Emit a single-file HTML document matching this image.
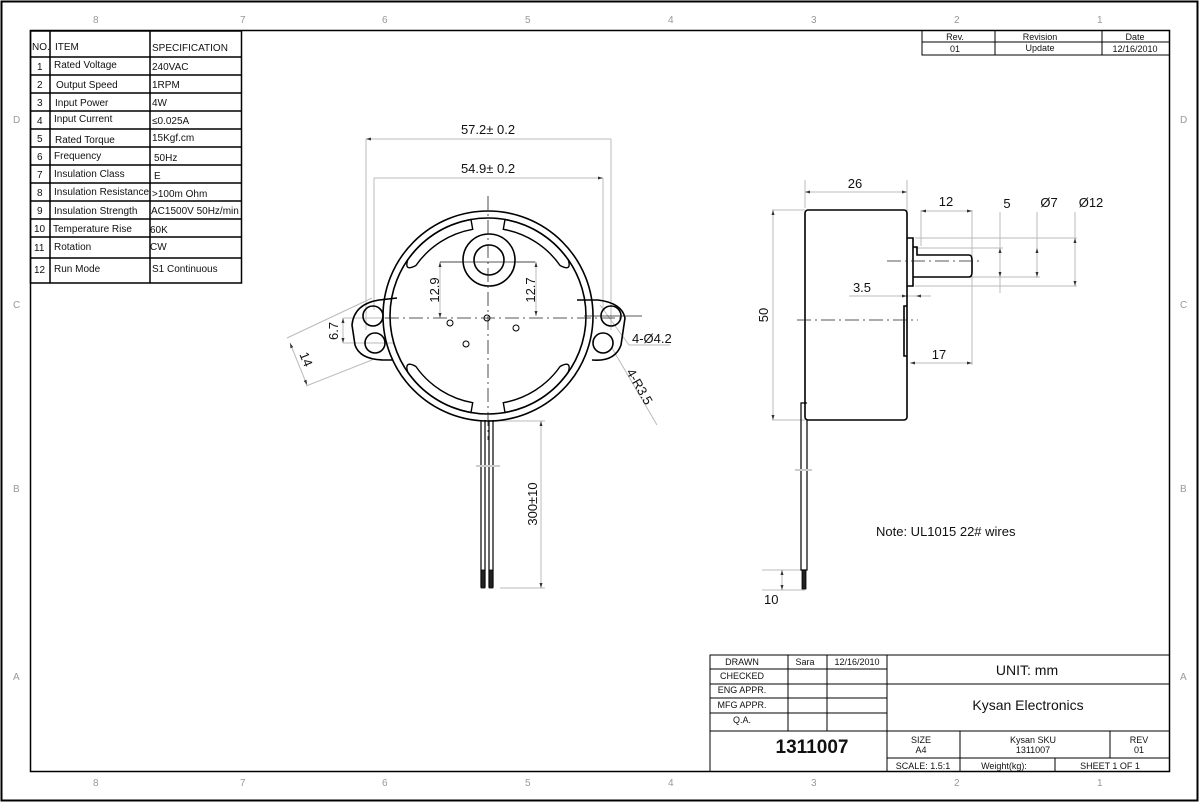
<!DOCTYPE html>
<html><head><meta charset="utf-8"><style>
html,body{margin:0;padding:0;background:#fff}
svg{display:block}
text{font-family:"Liberation Sans",Arial,sans-serif;fill:#111}
.d{stroke:#bbb;stroke-width:1;fill:none}
.k{stroke:#000;stroke-width:1.6;fill:none}
.t{stroke:#000;stroke-width:1;fill:none}
.c{stroke:#222;stroke-width:0.8;fill:none;stroke-dasharray:14 4 2 4}
</style></head><body>
<svg width="1200" height="803" viewBox="0 0 1200 803" xmlns="http://www.w3.org/2000/svg">
<defs><marker id="a" viewBox="0 0 10 10" refX="10" refY="5" markerWidth="7" markerHeight="5" orient="auto-start-reverse"><path d="M0,2 L10,5 L0,8z" fill="#333"/></marker></defs>
<rect x="1.5" y="1.5" width="1196" height="799" fill="none" stroke="#000" stroke-width="2"/>
<rect x="30.5" y="30.5" width="1139" height="741" fill="none" stroke="#000" stroke-width="1.5"/>
<g font-size="10">
<text x="93" y="23" style="fill:#999">8</text><text x="240" y="23" style="fill:#999">7</text><text x="382" y="23" style="fill:#999">6</text><text x="525" y="23" style="fill:#999">5</text><text x="668" y="23" style="fill:#999">4</text><text x="811" y="23" style="fill:#999">3</text><text x="954" y="23" style="fill:#999">2</text><text x="1097" y="23" style="fill:#999">1</text>
<text x="93" y="786" style="fill:#999">8</text><text x="240" y="786" style="fill:#999">7</text><text x="382" y="786" style="fill:#999">6</text><text x="525" y="786" style="fill:#999">5</text><text x="668" y="786" style="fill:#999">4</text><text x="811" y="786" style="fill:#999">3</text><text x="954" y="786" style="fill:#999">2</text><text x="1097" y="786" style="fill:#999">1</text>
<text x="13" y="123" style="fill:#999">D</text><text x="13" y="308" style="fill:#999">C</text><text x="13" y="492" style="fill:#999">B</text><text x="13" y="680" style="fill:#999">A</text>
<text x="1180" y="123" style="fill:#999">D</text><text x="1180" y="308" style="fill:#999">C</text><text x="1180" y="492" style="fill:#999">B</text><text x="1180" y="680" style="fill:#999">A</text>
</g>
<!-- spec table -->
<rect x="30.5" y="31" width="211" height="252" stroke="#000" stroke-width="1.5" fill="none"/>
<path d="M50,31V283M150,31V283M30,57H242M30,75H242M30,93H242M30,111H242M30,129H242M30,147H242M30,165H242M30,183H242M30,201H242M30,219H242M30,237H242M30,258H242" stroke="#000" stroke-width="1.5" fill="none"/>
<g font-size="10">
<text x="32" y="50">NO.</text><text x="55" y="50">ITEM</text><text x="152" y="51">SPECIFICATION</text>
<text x="37" y="70">1</text><text x="54" y="68">Rated Voltage</text><text x="152" y="70">240VAC</text>
<text x="37" y="88">2</text><text x="56" y="88">Output Speed</text><text x="152" y="88">1RPM</text>
<text x="37" y="106">3</text><text x="55" y="106">Input Power</text><text x="152" y="106">4W</text>
<text x="37" y="124">4</text><text x="54" y="122">Input Current</text><text x="152" y="124">≤0.025A</text>
<text x="37" y="142">5</text><text x="55" y="143">Rated Torque</text><text x="152" y="141">15Kgf.cm</text>
<text x="37" y="160">6</text><text x="54" y="159">Frequency</text><text x="154" y="161">50Hz</text>
<text x="37" y="178">7</text><text x="54" y="177">Insulation Class</text><text x="154" y="179">E</text>
<text x="37" y="196">8</text><text x="54" y="195">Insulation Resistance</text><text x="152" y="197">&gt;100m Ohm</text>
<text x="37" y="214">9</text><text x="54" y="214">Insulation Strength</text><text x="151" y="214">AC1500V 50Hz/min</text>
<text x="34" y="232">10</text><text x="53" y="232">Temperature Rise</text><text x="150" y="233">60K</text>
<text x="34" y="251">11</text><text x="54" y="250">Rotation</text><text x="150" y="250">CW</text>
<text x="34" y="273">12</text><text x="54" y="272">Run Mode</text><text x="152" y="272">S1 Continuous</text>
</g>
<!-- rev table -->
<path d="M922,30V55H1170M922,42H1170M995,30V55M1102,30V55" stroke="#000" stroke-width="1" fill="none"/>
<g font-size="9" text-anchor="middle"><text x="955" y="40">Rev.</text><text x="1040" y="40">Revision</text><text x="1135" y="40">Date</text><text x="955" y="52">01</text><text x="1040" y="51">Update</text><text x="1135" y="52">12/16/2010</text></g>
<!-- title block -->
<g stroke="#000" stroke-width="1" fill="none">
<path d="M710,772V655H1170M710,731H1170M788,655V731M827,655V731M887,655V772M710,669H887M710,684H887M710,698H887M710,713H887M887,684H1170M887,758H1170M960,731V772M1110,731V758M1055,758V772"/>
</g>
<g font-size="9" text-anchor="middle">
<text x="742" y="665">DRAWN</text><text x="805" y="665">Sara</text><text x="857" y="665">12/16/2010</text>
<text x="742" y="679">CHECKED</text><text x="742" y="693">ENG APPR.</text><text x="742" y="708">MFG APPR.</text><text x="742" y="723">Q.A.</text>
<text x="921" y="743">SIZE</text><text x="921" y="753">A4</text><text x="1033" y="743">Kysan SKU</text><text x="1033" y="753">1311007</text><text x="1139" y="743">REV</text><text x="1139" y="753">01</text>
<text x="923" y="769">SCALE: 1.5:1</text><text x="1004" y="769">Weight(kg):</text><text x="1110" y="769">SHEET 1 OF 1</text>
</g>
<text x="1027" y="675" font-size="14" text-anchor="middle">UNIT: mm</text>
<text x="1028" y="710" font-size="14" text-anchor="middle">Kysan Electronics</text>
<text x="812" y="753" font-size="19" font-weight="bold" text-anchor="middle">1311007</text>
<!-- front view -->
<g class="d">
<path d="M366,139V330M611,139V330M374,178V310M603,178V310"/>
<path d="M366,139H611M374,178H603" marker-start="url(#a)" marker-end="url(#a)"/>
<path d="M440,262H463"/><path d="M440,262V318" marker-start="url(#a)" marker-end="url(#a)"/>
<path d="M536,262H514"/><path d="M536,262V316" marker-start="url(#a)" marker-end="url(#a)"/>
<path d="M343,318H395M343,343H395"/>
<path d="M343,318V343" marker-start="url(#a)" marker-end="url(#a)"/>
<path d="M287,338L372,298M306,386L372,360"/>
<path d="M290,343L307,385" marker-start="url(#a)" marker-end="url(#a)"/>
<path d="M600,305L629,345H670M612,348L657,425"/>
<path d="M500,421H545M500,588H545"/><path d="M541,421V588" marker-start="url(#a)" marker-end="url(#a)"/>
</g>
<g class="k">
<path d="M397,298 L379,300 Q354,304 352,325 L355,345 Q360,360 385,360 L392,360"/>
<path d="M577,300 L598,300 Q622,303 625,318 L621,345 Q615,362 592,360"/>
<circle cx="488" cy="316" r="105"/>
<circle cx="488" cy="316" r="98"/>
<circle cx="489" cy="260" r="26"/><circle cx="489" cy="260" r="15"/>
<circle cx="373" cy="316" r="10"/><circle cx="375" cy="343" r="10"/>
<circle cx="611" cy="316" r="10"/><circle cx="603" cy="343" r="10"/>
<g stroke-width="1.4">
<path d="M471,219.5 A98,98 0 0 0 407.7,259.8 Q404,272 415.9,265.5 A88,88 0 0 1 472.7,229.3 Z"/>
<path d="M505,219.5 A98,98 0 0 1 568.3,259.8 Q572,272 560.1,265.5 A88,88 0 0 0 503.3,229.3 Z"/>
<path d="M471,412.5 A98,98 0 0 1 407.7,372.2 Q404,360 415.9,366.5 A88,88 0 0 0 472.7,402.7 Z"/>
<path d="M505,412.5 A98,98 0 0 0 568.3,372.2 Q572,360 560.1,366.5 A88,88 0 0 1 503.3,402.7 Z"/>
</g>
<circle cx="487" cy="318" r="3" stroke-width="1"/><circle cx="450" cy="323" r="3" stroke-width="1"/><circle cx="466" cy="344" r="3" stroke-width="1"/><circle cx="516" cy="328" r="3" stroke-width="1"/>
<path d="M481,420V587M485,420V587M489,420V587M493,420V587" stroke-width="1.2"/>
<path d="M481,570h4v18h-4zM489,570h4v18h-4z" fill="#222" stroke-width="0.8"/>
</g>
<path class="c" d="M488,196V440M385,318H620"/>
<path d="M440,262H535M584,316H642" stroke="#222" stroke-width="0.8"/>
<path d="M476,466H500" stroke="#ccc" stroke-width="2"/>
<g font-size="13">
<text x="488" y="134" text-anchor="middle">57.2± 0.2</text>
<text x="488" y="173" text-anchor="middle">54.9± 0.2</text>
<text transform="translate(439,290) rotate(-90)" text-anchor="middle">12.9</text>
<text transform="translate(535,290) rotate(-90)" text-anchor="middle">12.7</text>
<text transform="translate(338,331) rotate(-90)" text-anchor="middle">6.7</text>
<text transform="translate(302,361) rotate(68)" text-anchor="middle">14</text>
<text x="632" y="343">4-Ø4.2</text>
<text transform="translate(626,372) rotate(60)">4-R3.5</text>
<text transform="translate(537,504) rotate(-90)" text-anchor="middle">300±10</text>
</g>
<!-- side view -->
<g class="d">
<path d="M805,180V208M907,180V240"/><path d="M805,192H907" marker-start="url(#a)" marker-end="url(#a)"/>
<path d="M772,210H805M772,420H805"/><path d="M773,210V420" marker-start="url(#a)" marker-end="url(#a)"/>
<path d="M921,210V246M972,210V365"/><path d="M921,211H972" marker-start="url(#a)" marker-end="url(#a)"/>
<path d="M1000,212V293M1037,212V278M1075,212V286"/>
<path d="M915,248H1003M915,277H1040M915,238H1077M915,286H1077"/>
<path d="M1000,248V277" marker-start="url(#a)" marker-end="url(#a)"/>
<path d="M1037,248V277" marker-start="url(#a)" marker-end="url(#a)"/>
<path d="M1075,238V286" marker-start="url(#a)" marker-end="url(#a)"/>
<path d="M849,296H931"/><path d="M895,296H907" marker-end="url(#a)"/><path d="M928,296H916" marker-end="url(#a)"/>
<path d="M910,363H972" marker-start="url(#a)" marker-end="url(#a)"/>
<path d="M762,570H805M762,590H805"/><path d="M782,570V590" marker-start="url(#a)" marker-end="url(#a)"/>
</g>
<g class="k">
<rect x="805" y="210" width="102" height="210" rx="3"/>
<path d="M907,238H913V286H907M913,247H917V255H969Q972,255 972,260V272Q972,277 969,277H913"/>
<path d="M907,306H904V356H907"/>
<path d="M807,403H801V570H807V420" stroke-width="1.2"/>
<path d="M802,570h4v19h-4z" fill="#222" stroke-width="0.8"/>
</g>
<path class="c" d="M797,320H918M887,261H980"/>
<path d="M795,470H812" stroke="#ccc" stroke-width="2"/>
<g font-size="13">
<text x="855" y="188" text-anchor="middle">26</text>
<text x="946" y="206" text-anchor="middle">12</text>
<text x="1007" y="208" text-anchor="middle">5</text>
<text x="1049" y="207" text-anchor="middle">Ø7</text>
<text x="1091" y="207" text-anchor="middle">Ø12</text>
<text x="862" y="292" text-anchor="middle">3.5</text>
<text x="939" y="359" text-anchor="middle">17</text>
<text transform="translate(768,315) rotate(-90)" text-anchor="middle">50</text>
<text x="764" y="604">10</text>
</g>
<text x="876" y="536" font-size="13">Note:  UL1015 22#  wires</text>
</svg>
</body></html>
